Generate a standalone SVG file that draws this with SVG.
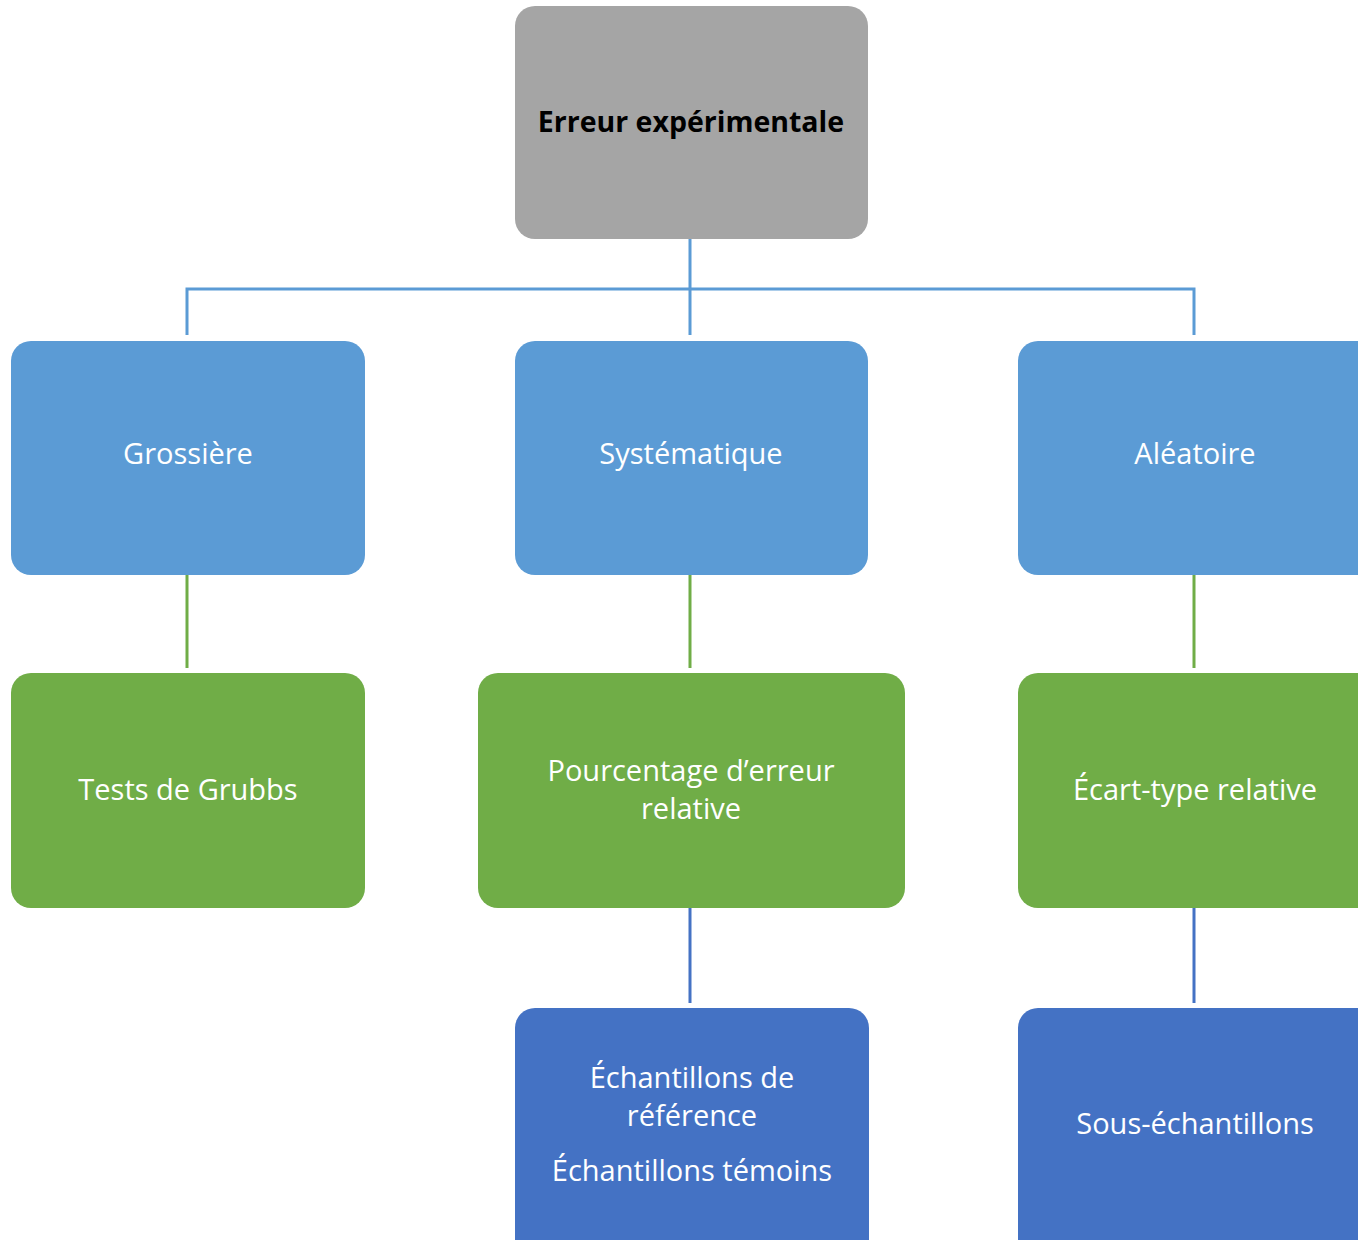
<svg xmlns="http://www.w3.org/2000/svg" width="1358" height="1240" viewBox="0 0 1358 1240">
  <style>
    .lbl { font-family: "Open Sans", "Liberation Sans", sans-serif; font-size: 29px; fill: #ffffff; text-anchor: middle; }
    .root { font-family: "Open Sans", "Liberation Sans", sans-serif; font-size: 28.5px; font-weight: bold; fill: #000000; text-anchor: middle; }
    .ln { fill: none; stroke-width: 3; }
  </style>
  <rect width="1358" height="1240" fill="#ffffff"/>

  <g id="connectors">
    <path class="ln" stroke="#5b9bd5" d="M690 239 V335 M187 335 V289 H1194 V335"/>
    <path class="ln" stroke="#70ad47" d="M187 575 V668 M690 575 V668 M1194 575 V668"/>
    <path class="ln" stroke="#4472c4" d="M690 908 V1003 M1194 908 V1003"/>
  </g>

  <g id="root">
    <rect x="515" y="6" width="353" height="233" rx="20" fill="#a5a5a5"/>
    <text class="root" x="691" y="132">Erreur expérimentale</text>
  </g>

  <g id="grossiere">
    <rect x="11" y="341" width="354" height="234" rx="20" fill="#5b9bd5"/>
    <text class="lbl" x="188" y="464">Grossière</text>
  </g>
  <g id="systematique">
    <rect x="515" y="341" width="353" height="234" rx="20" fill="#5b9bd5"/>
    <text class="lbl" x="691" y="464">Systématique</text>
  </g>
  <g id="aleatoire">
    <rect x="1018" y="341" width="360" height="234" rx="20" fill="#5b9bd5"/>
    <text class="lbl" x="1195" y="464">Aléatoire</text>
  </g>

  <g id="grubbs">
    <rect x="11" y="673" width="354" height="235" rx="20" fill="#70ad47"/>
    <text class="lbl" x="188" y="800">Tests de Grubbs</text>
  </g>
  <g id="pourcentage">
    <rect x="478" y="673" width="427" height="235" rx="20" fill="#70ad47"/>
    <text class="lbl" x="691" y="781">Pourcentage d’erreur</text>
    <text class="lbl" x="691" y="819">relative</text>
  </g>
  <g id="ecart-type">
    <rect x="1018" y="673" width="360" height="235" rx="20" fill="#70ad47"/>
    <text class="lbl" x="1195" y="800">Écart-type relative</text>
  </g>

  <g id="echantillons">
    <rect x="515" y="1008" width="354" height="260" rx="20" fill="#4472c4"/>
    <text class="lbl" x="692" y="1088">Échantillons de</text>
    <text class="lbl" x="692" y="1126">référence</text>
    <text class="lbl" x="692" y="1181">Échantillons témoins</text>
  </g>
  <g id="sous-echantillons">
    <rect x="1018" y="1008" width="360" height="260" rx="20" fill="#4472c4"/>
    <text class="lbl" x="1195" y="1134">Sous-échantillons</text>
  </g>
</svg>
